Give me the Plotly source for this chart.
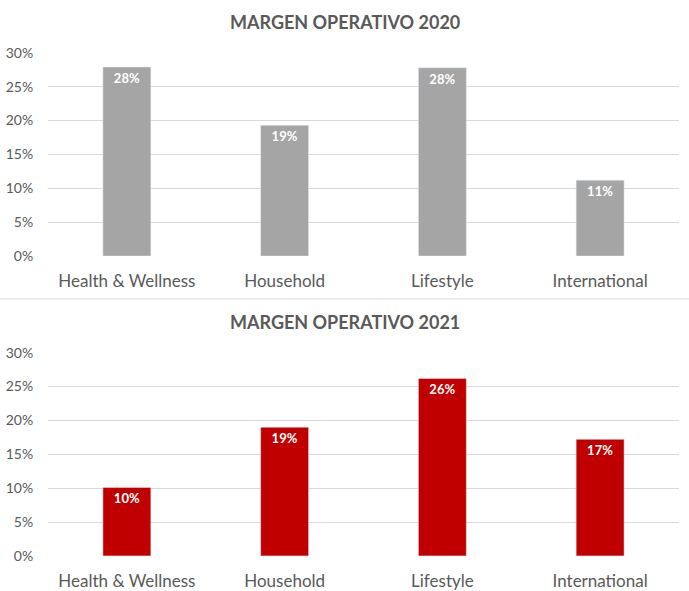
import plotly.graph_objects as go

categories = ["Health & Wellness", "Household", "Lifestyle", "International"]
margin_2020 = [0.279, 0.193, 0.278, 0.112]
margin_2021 = [0.101, 0.190, 0.262, 0.172]
labels_2020 = ["28%", "19%", "28%", "11%"]
labels_2021 = ["10%", "19%", "26%", "17%"]
title_2020 = "MARGEN OPERATIVO 2020"
title_2021 = "MARGEN OPERATIVO 2021"
ytick_vals = [0, 0.05, 0.10, 0.15, 0.20, 0.25, 0.30]
ytick_text = ["0%", "5%", "10%", "15%", "20%", "25%", "30%"]

W, H = 689, 591
FONT = "Lato, Open Sans, sans-serif"
GRAY_TXT = "#595959"

# mapping from target picture pixels to paper coordinates (calibrated)
Y_OFF, Y_SCALE = 7.0, 0.975

def fx(X):
    return X / W

def fy(Y):
    return 1 - ((Y - Y_OFF) / Y_SCALE) / H

fig = go.Figure()
fig.add_trace(go.Bar(
    x=categories, y=margin_2020, text=labels_2020, width=0.304,
    marker_color="#A5A5A5", textposition="inside", insidetextanchor="end",
    textfont=dict(color="white", size=13, family=FONT), texttemplate="<b>%{text}</b>",
    xaxis="x", yaxis="y", showlegend=False, hoverinfo="skip"))
fig.add_trace(go.Bar(
    x=categories, y=margin_2021, text=labels_2021, width=0.304,
    marker_color="#C00000", textposition="inside", insidetextanchor="end",
    textfont=dict(color="white", size=13, family=FONT), texttemplate="<b>%{text}</b>",
    xaxis="x2", yaxis="y2", showlegend=False, hoverinfo="skip"))

xcommon = dict(showgrid=False, zeroline=False, showline=False,
               ticks="outside", ticklen=10, tickcolor="rgba(0,0,0,0)",
               tickfont=dict(size=17, color=GRAY_TXT, family=FONT), fixedrange=True)
ycommon = dict(range=[0, 0.30], tickvals=ytick_vals, ticktext=ytick_text,
               showgrid=True, gridcolor="#D9D9D9", gridwidth=1, zeroline=False,
               showline=False, ticks="outside", ticklen=11, tickcolor="rgba(0,0,0,0)",
               tickfont=dict(size=14, color=GRAY_TXT, family=FONT), fixedrange=True)

fig.update_layout(
    width=W, height=H,
    margin=dict(l=0, r=0, t=0, b=0),
    paper_bgcolor="white", plot_bgcolor="white",
    xaxis=dict(domain=[fx(48), fx(679)], anchor="y", **xcommon),
    yaxis=dict(domain=[fy(255), fy(51)], anchor="x", **ycommon),
    xaxis2=dict(domain=[fx(48), fx(679)], anchor="y2", **xcommon),
    yaxis2=dict(domain=[fy(556), fy(352)], anchor="x2", **ycommon),
    font=dict(family=FONT, color=GRAY_TXT),
    annotations=[
        dict(text="<b>" + title_2020 + "</b>", x=0.5, y=fy(20.5), xref="paper", yref="paper",
             showarrow=False, font=dict(size=18, color=GRAY_TXT, family=FONT), yanchor="middle"),
        dict(text="<b>" + title_2021 + "</b>", x=0.5, y=fy(321.5), xref="paper", yref="paper",
             showarrow=False, font=dict(size=18, color=GRAY_TXT, family=FONT), yanchor="middle"),
    ],
    shapes=[dict(type="line", xref="paper", yref="paper", x0=0, x1=1,
                 y0=fy(298), y1=fy(298), line=dict(color="#D9D9D9", width=1))],
)

fig.write_html("out.html", config={"displayModeBar": False},
               post_script="document.body.style.margin='0';document.body.style.overflow='hidden';")
